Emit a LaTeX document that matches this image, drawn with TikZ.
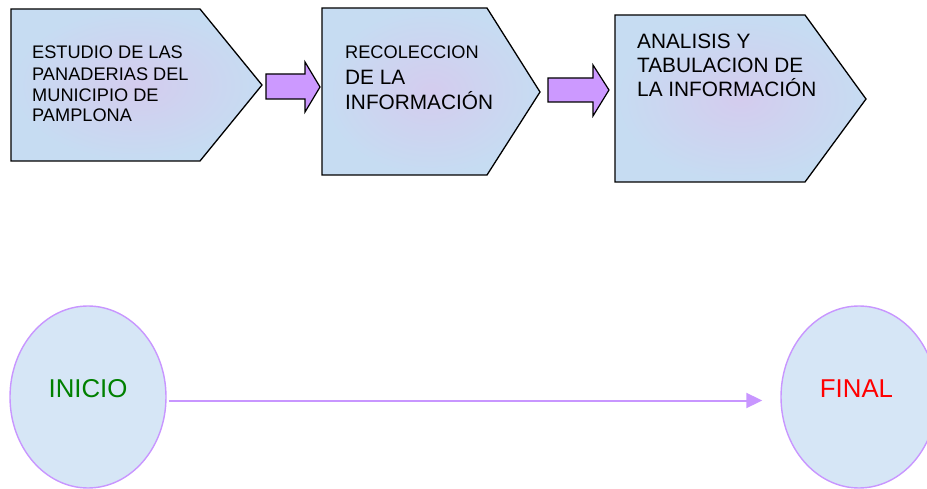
\documentclass[tikz,border=0pt]{standalone}
\usepackage{fontspec}
\setmainfont{Liberation Sans}
\usetikzlibrary{arrows.meta,shapes.geometric}

\definecolor{stageblue}{RGB}{198,220,242}
\definecolor{stagepink}{RGB}{212,204,238}
\definecolor{blockviolet}{RGB}{204,153,255}
\definecolor{ringlav}{RGB}{200,150,255}
\definecolor{ovalfill}{RGB}{214,230,246}
\definecolor{startgreen}{RGB}{0,128,0}
\definecolor{endred}{RGB}{255,0,0}

\tikzset{
  stagebox/.style={draw=black, line width=1.3pt, inner color=stagepink, outer color=stageblue},
  blockarrow/.style={draw=black, line width=1.2pt, fill=blockviolet, line join=miter},
  linesmall/.style={anchor=base west, inner sep=0pt, font=\fontsize{18.2}{21}\selectfont},
  linebig/.style={anchor=base west, inner sep=0pt, font=\fontsize{20.8}{25}\selectfont},
  endpoint/.style={ellipse, draw=ringlav, line width=1.4pt, fill=ovalfill,
    minimum width=156pt, minimum height=182pt, inner sep=0pt},
  endlabel/.style={anchor=base, inner sep=0pt, font=\fontsize{25.8}{30}\selectfont},
  flow/.style={draw=ringlav, line width=2pt, -{Triangle[length=16pt,width=15pt]},
    shorten <=2pt, shorten >=18pt}
}

\begin{document}
\begin{tikzpicture}[x=1pt,y=-1pt]
\useasboundingbox (0,0) rectangle (927,489);
\clip (0,0) rectangle (927,489);

% process stages
\path[stagebox] (11,9) -- (200,9) -- (262,85) -- (200,161) -- (11,161) -- cycle;
\path[stagebox] (322,8) -- (487,8) -- (540,92) -- (487,175) -- (322,175) -- cycle;
\path[stagebox] (615,15) -- (805,15) -- (866,99) -- (805,182) -- (615,182) -- cycle;

% block arrows between stages
\path[blockarrow] (266,74) -- (305,74) -- (305,62) -- (320,87) -- (305,112) -- (305,99) -- (266,99) -- cycle;
\path[blockarrow] (548,78) -- (593,78) -- (593,65) -- (609,90) -- (593,116) -- (593,102) -- (548,102) -- cycle;

% stage texts
\node[linesmall] (s1a) at (32,59) {ESTUDIO DE LAS};
\node[linesmall] (s1b) at (32,80.5) {PANADERIAS DEL};
\node[linesmall] (s1c) at (32,101.5) {MUNICIPIO DE};
\node[linesmall] (s1d) at (32,122) {PAMPLONA};

\node[linesmall] (s2a) at (345,59) {RECOLECCION};
\node[linebig] (s2b) at (345,85) {DE LA};
\node[linebig] (s2c) at (345,110) {INFORMACIÓN};

\node[linebig] (s3a) at (637,49) {ANALISIS Y};
\node[linebig] (s3b) at (637,73) {TABULACION DE};
\node[linebig] (s3c) at (637,97) {LA INFORMACIÓN};

% start and end
\node[endpoint] (ini) at (88,397) {};
\node[endpoint] (fin) at (859,397) {};
\node[endlabel, text=startgreen] (iniL) at (ini.center) {INICIO};
\node[endlabel, text=endred] (finL) at ([xshift=-2.5pt]fin.center) {FINAL};

\draw[flow] ([yshift=-3.5pt]ini.east) -- ([yshift=-3.5pt]fin.west);
\end{tikzpicture}
\end{document}
